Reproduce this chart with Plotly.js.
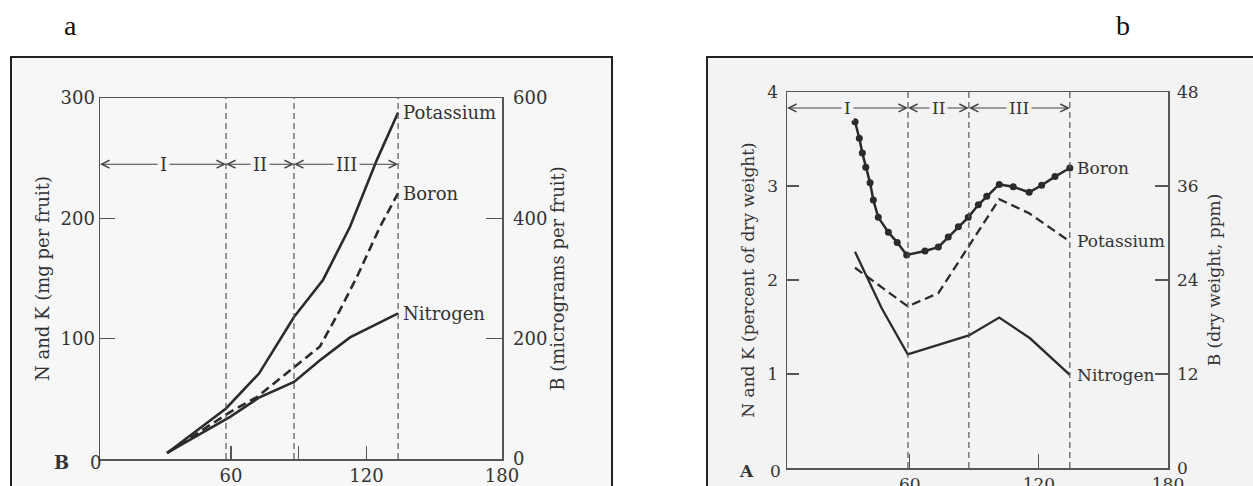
<!DOCTYPE html>
<html>
<head>
<meta charset="utf-8">
<script src="https://cdn.plot.ly/plotly-3.0.1.min.js"></script>
<style>html,body{margin:0;padding:0;background:#fff;}#chart{width:1253px;height:486px;}</style>
</head>
<body>
<div id="chart"></div>
<script>
// ---------- Panel a : content per fruit ----------
const aPotassiumDays = [31.7, 57.8, 72.4, 87.9, 100.8, 112.7, 124.7, 134.0];
const aPotassiumMg   = [5, 42, 71, 118, 149, 193, 249, 288];
const aNitrogenDays  = [31.7, 59.6, 72.4, 87.9, 99.4, 112.7, 134.0];
const aNitrogenMg    = [5, 35, 51, 64, 82, 101, 121];
const aBoronDays     = [31.7, 59.6, 71.5, 87.9, 99.4, 108.3, 115.8, 126.0, 134.0];
const aBoronUg       = [10, 78, 103, 153, 187, 248, 303, 386, 442];

// ---------- Panel b : concentration ----------
const bBoronDays = [34.6, 36.6, 38.0, 39.6, 41.6, 43.1, 45.4, 50.1, 54.2, 58.6, 67.1, 73.3, 77.9, 82.6, 87.2, 91.9, 95.8, 101.6, 108.1, 115.5, 121.3, 127.5, 134.4];
const bBoronPpm  = [44.2, 42.1, 40.2, 38.4, 36.4, 34.2, 32.0, 30.1, 28.8, 27.2, 27.7, 28.2, 29.5, 30.8, 32.0, 33.6, 34.7, 36.2, 35.9, 35.2, 36.1, 37.2, 38.3];
const bPotassiumDays = [34.6, 59.1, 73.3, 101.6, 115.5, 134.4];
const bPotassiumPct  = [2.13, 1.72, 1.86, 2.86, 2.71, 2.41];
const bNitrogenDays  = [34.6, 47.0, 59.1, 73.3, 87.5, 101.6, 115.9, 134.4];
const bNitrogenPct   = [2.30, 1.70, 1.21, 1.31, 1.41, 1.60, 1.38, 0.99];

// ---------- ticks & stages ----------
const aXTicks = [60, 90, 120, 180];
const aXTickText = ['60', '', '120', '180'];
const aLeftTicks = [100, 200, 300];
const aRightTicks = [0, 200, 400, 600];
const bXTicks = [60, 120, 180];
const bLeftTicks = [1, 2, 3, 4];
const bRightTicks = [0, 12, 24, 36, 48];
const stageNames = ['I', 'II', 'III'];
const aStageBounds = [2, 57.8, 87.9, 134.0];
const bStageBounds = [3, 59.2, 87.5, 134.4];
const aStageLevel = 245;
const bStageLevel = 3.83;

const INK = '#2b2b2b';
const AXC = '#555';
const FONT = 'DejaVu Serif';
const TXT = '#333';
const fillA = '#f7f7f7', fillB = '#f3f3f3';

const traces = [
  {x: aPotassiumDays, y: aPotassiumMg, xaxis: 'x', yaxis: 'y', mode: 'lines', name: 'Potassium',
   line: {color: INK, width: 2.6}},
  {x: aNitrogenDays, y: aNitrogenMg, xaxis: 'x', yaxis: 'y', mode: 'lines', name: 'Nitrogen',
   line: {color: INK, width: 2.6}},
  {x: aBoronDays, y: aBoronUg, xaxis: 'x', yaxis: 'y2', mode: 'lines', name: 'Boron',
   line: {color: INK, width: 2.6, dash: '9px,5px'}},
  {x: bPotassiumDays, y: bPotassiumPct, xaxis: 'x2', yaxis: 'y3', mode: 'lines', name: 'Potassium',
   line: {color: INK, width: 2.3, dash: '9px,5px'}},
  {x: bNitrogenDays, y: bNitrogenPct, xaxis: 'x2', yaxis: 'y3', mode: 'lines', name: 'Nitrogen',
   line: {color: INK, width: 2.3}},
  {x: bBoronDays, y: bBoronPpm, xaxis: 'x2', yaxis: 'y4', mode: 'lines+markers', name: 'Boron',
   line: {color: INK, width: 2.5}, marker: {color: INK, size: 7}}
];

function ax(o, fs) {
  return Object.assign({
    showline: true, linecolor: AXC, linewidth: 1.5, ticks: 'inside', tickcolor: AXC, tickwidth: 1.2,
    showgrid: false, zeroline: false, tickfont: {family: FONT, size: fs, color: TXT}, fixedrange: true
  }, o);
}

const layout = {
  width: 1253, height: 486,
  margin: {l: 0, r: 0, t: 0, b: 0},
  paper_bgcolor: '#ffffff', plot_bgcolor: 'rgba(0,0,0,0)',
  showlegend: false,
  font: {family: FONT, size: 17, color: TXT},
  xaxis: ax({domain: [100/1253, 502/1253], range: [2, 180], anchor: 'y', mirror: true, ticklen: 13,
    tickvals: aXTicks, ticktext: aXTickText}, 18),
  yaxis: ax({domain: [27/486, 388/486], range: [0, 300], anchor: 'x', mirror: true, ticklen: 15,
    tickvals: aLeftTicks, title: {text: 'N and K (mg per fruit)', standoff: 6, font: {family: FONT, size: 18, color: TXT}}}, 18),
  yaxis2: ax({overlaying: 'y', side: 'right', anchor: 'x', range: [0, 600], ticklen: 16,
    tickvals: aRightTicks, ticklabelstandoff: 6,
    title: {text: 'B (micrograms per fruit)', standoff: 3, font: {family: FONT, size: 18, color: TXT}}}, 18),
  xaxis2: ax({domain: [787/1253, 1168/1253], range: [3, 180], anchor: 'y3', mirror: true, ticklen: 14,
    tickvals: bXTicks}, 17),
  yaxis3: ax({domain: [18/486, 394/486], range: [0, 4], anchor: 'x2', mirror: true, ticklen: 12,
    tickvals: bLeftTicks, ticklabelstandoff: 4,
    title: {text: 'N and K (percent of dry weight)', standoff: 8, font: {family: FONT, size: 17, color: TXT}}}, 17),
  yaxis4: ax({overlaying: 'y3', side: 'right', anchor: 'x2', range: [0, 48], ticklen: 13,
    tickvals: bRightTicks, ticklabelstandoff: 4,
    title: {text: 'B (dry weight, ppm)', standoff: 10, font: {family: FONT, size: 17, color: TXT}}}, 17),
  shapes: [],
  annotations: []
};

// Panel frames
layout.shapes.push({type: 'rect', xref: 'paper', yref: 'paper', x0: 11/1253, x1: 612/1253, y0: -0.05, y1: 429/486,
  line: {color: '#222', width: 2}, fillcolor: fillA, layer: 'below'});
layout.shapes.push({type: 'rect', xref: 'paper', yref: 'paper', x0: 707/1253, x1: 1.05, y0: -0.05, y1: 429/486,
  line: {color: '#222', width: 2}, fillcolor: fillB, layer: 'below'});

// Stage boundaries (dashed verticals)
[[aStageBounds, 'x', 'y domain'], [bStageBounds, 'x2', 'y3 domain']].forEach(([b, xr, yr]) => {
  b.slice(1).forEach(v => layout.shapes.push({type: 'line', xref: xr, yref: yr, x0: v, x1: v, y0: 0, y1: 1,
    line: {color: '#555', width: 1.2, dash: '6px,4px'}}));
});

// Stage arrows and names
function stages(bounds, level, xr, yr, bg, fs) {
  for (let i = 0; i < 3; i++) {
    const mid = (bounds[i] + bounds[i+1]) / 2;
    [bounds[i], bounds[i+1]].forEach(tip => layout.annotations.push({
      xref: xr, yref: yr, axref: xr, ayref: yr, x: tip, y: level, ax: mid, ay: level, text: '',
      showarrow: true, arrowhead: 5, arrowsize: 1.4, arrowwidth: 1.1, arrowcolor: '#444', standoff: 0, startstandoff: 0
    }));
  }
  for (let i = 0; i < 3; i++) {
    const mid = (bounds[i] + bounds[i+1]) / 2;
    layout.annotations.push({xref: xr, yref: yr, x: mid, y: level, text: stageNames[i], showarrow: false,
      bgcolor: bg, borderpad: 2, font: {family: FONT, size: fs, color: TXT}});
  }
}
stages(aStageBounds, aStageLevel, 'x', 'y', fillA, 18);
stages(bStageBounds, bStageLevel, 'x2', 'y3', fillB, 17);

// End labels
function endLabel(text, xs, ys, xr, yr, shift, fs) {
  layout.annotations.push({xref: xr, yref: yr, x: xs[xs.length-1], y: ys[ys.length-1], text: text,
    showarrow: false, xanchor: 'left', xshift: shift, font: {family: FONT, size: fs, color: TXT}});
}
endLabel('Potassium', aPotassiumDays, aPotassiumMg, 'x', 'y', 3, 18);
endLabel('Boron', aBoronDays, aBoronUg, 'x', 'y2', 3, 18);
endLabel('Nitrogen', aNitrogenDays, aNitrogenMg, 'x', 'y', 3, 18);
endLabel('Boron', bBoronDays, bBoronPpm, 'x2', 'y4', 5, 17);
endLabel('Potassium', bPotassiumDays, bPotassiumPct, 'x2', 'y3', 5, 17);
endLabel('Nitrogen', bNitrogenDays, bNitrogenPct, 'x2', 'y3', 5, 17);

// Origin labels and panel letters
const paperText = [
  ['B', 52, 475, true, 18], ['0', 88, 475, false, 18], ['A', 746, 483, true, 17], ['0', 776, 483, false, 17]
];
paperText.forEach(([t, px, py, bold, fs]) => layout.annotations.push({xref: 'paper', yref: 'paper',
  x: px/1253, y: 1 - py/486, text: bold ? '<b>' + t + '</b>' : t, showarrow: false,
  font: {family: FONT, size: fs, color: TXT}}));
[['a', 62], ['b', 1132]].forEach(([t, px]) => layout.annotations.push({xref: 'paper', yref: 'paper',
  x: px/1253, y: 1 - 8/486, yanchor: 'top', text: t, showarrow: false,
  font: {family: 'Liberation Serif', size: 28, color: '#111'}}));

Plotly.newPlot('chart', traces, layout, {staticPlot: true, displayModeBar: false});
</script>
</body>
</html>
